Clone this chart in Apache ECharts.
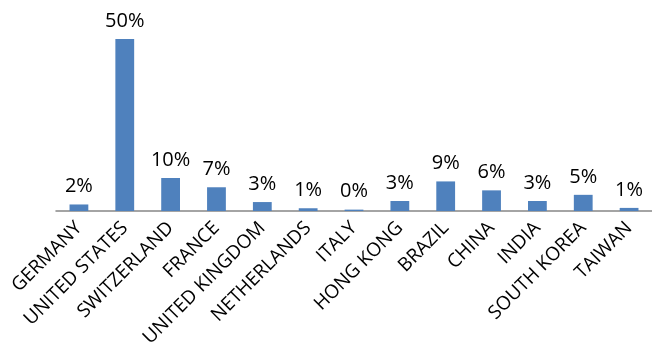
<!DOCTYPE html>
<html>
<head>
<meta charset="utf-8">
<script src="https://cdn.jsdelivr.net/npm/echarts@6/dist/echarts.min.js"></script>
<style>
  html, body { margin: 0; padding: 0; background: #fff; }
  #chart { width: 652px; height: 360px; }
</style>
</head>
<body>
<div id="chart"></div>
<script>
// Share by country, in percent
const countries = ['GERMANY', 'UNITED STATES', 'SWITZERLAND', 'FRANCE', 'UNITED KINGDOM',
  'NETHERLANDS', 'ITALY', 'HONG KONG', 'BRAZIL', 'CHINA', 'INDIA', 'SOUTH KOREA', 'TAIWAN'];
const shares = [1.9, 50, 9.6, 6.9, 2.6, 0.8, 0.4, 2.9, 8.6, 6.0, 2.9, 4.7, 0.9];

const chart = echarts.init(document.getElementById('chart'));
chart.setOption({
  animation: false,
  grid: { left: 56, right: 0, top: 39, bottom: 149, containLabel: false },
  xAxis: {
    type: 'category',
    data: countries,
    axisLine: { show: true, lineStyle: { color: '#868686', width: 1.5 } },
    axisTick: { show: false },
    axisLabel: {
      interval: 0,
      rotate: 45,
      margin: 14,
      color: '#000',
      fontFamily: 'Open Sans',
      fontSize: 19
    }
  },
  yAxis: {
    type: 'value',
    min: 0,
    max: 50,
    show: false,
    splitLine: { show: false }
  },
  series: [{
    type: 'bar',
    data: shares,
    barWidth: '41%',
    itemStyle: { color: '#4F81BD' },
    label: {
      show: true,
      position: 'top',
      distance: 8,
      color: '#000',
      fontFamily: 'Open Sans',
      fontSize: 20,
      formatter: p => Math.round(p.value) + '%'
    }
  }]
});
</script>
</body>
</html>
